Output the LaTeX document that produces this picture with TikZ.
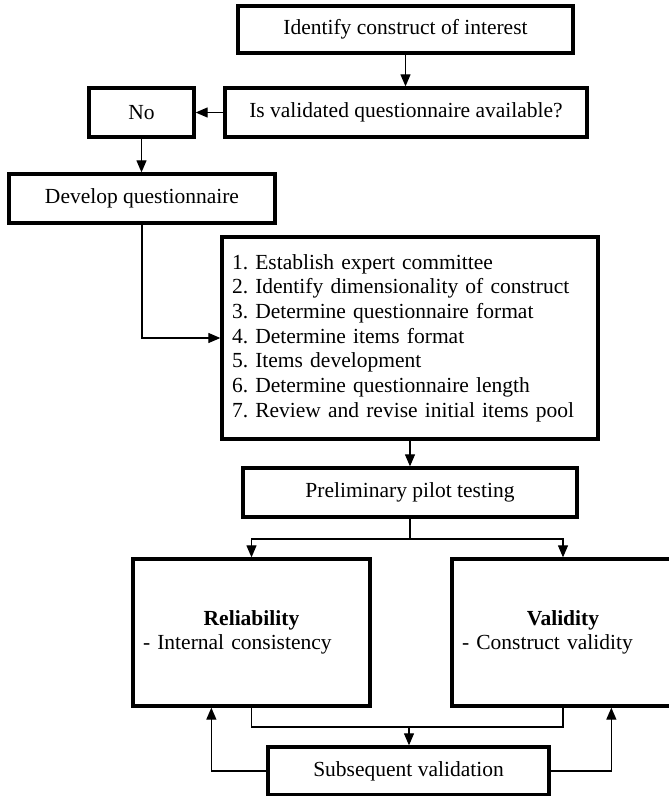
\documentclass[tikz,border=0pt]{standalone}
\usepackage{fontspec}
\setmainfont{Liberation Serif}
\usetikzlibrary{arrows.meta}
\newcommand{\boxfont}{\fontsize{21.5}{24.7}\selectfont}
\frenchspacing

\begin{document}
\begin{tikzpicture}[x=1pt, y=-1pt,
  box/.style={draw, line width=3.3pt, inner sep=0pt, align=center, font=\boxfont},
  listbox/.style={box, align=left, inner xsep=10pt},
  conn/.style={line width=1.2pt},
  arr/.style={conn, -{Triangle[length=12pt, width=10pt]}}
]
\useasboundingbox (0,0) rectangle (669,796);
\node[box, minimum width=335pt, minimum height=47pt] (ident) at (405.5,29.5) {Identify construct of interest};
\node[box, minimum width=362pt, minimum height=49pt] (avail) at (406,112.5) {Is validated questionnaire available?};
\node[box, minimum width=105pt, minimum height=49pt] (no) at (141.5,112.5) {No};
\node[box, minimum width=266pt, minimum height=49pt] (develop) at (142,198.5) {Develop questionnaire};
\node[listbox, text width=356pt, minimum height=202pt] (steps) at (410,338) {1. Establish expert committee\\
  2. Identify dimensionality of construct\\
  3. Determine questionnaire format\\
  4. Determine items format\\
  5. Items development\\
  6. Determine questionnaire length\\
  7. Review and revise initial items pool};
\node[box, minimum width=334pt, minimum height=49pt] (pilot) at (410,492.5) {Preliminary pilot testing};
\node[listbox, text width=217pt, minimum height=147pt] (rel) at (251.5,632.5) {\makebox[217pt]{\textbf{Reliability}}\\- Internal consistency};
\node[listbox, text width=202pt, minimum height=147pt] (val) at (563,632.5) {\makebox[202pt]{\textbf{Validity}}\\- Construct validity};
\node[box, minimum width=281pt, minimum height=48pt] (subseq) at (408.5,771) {Subsequent validation};
\coordinate (split) at (410,539);
\coordinate (join) at (409,727);

\draw[arr] (ident.south) -- (ident.south |- avail.north);
\draw[arr] (avail) -- (no);
\draw[arr] (no.south) -- (no.south |- develop.north);
\draw[arr] (develop.south) |- (steps.west);
\draw[arr] (steps) -- (pilot);
\draw[conn] (pilot) -- (split);
\draw[arr] (split) -| (rel.north);
\draw[arr] (split) -| (val.north);
\draw[conn] (rel.south) |- (join) -| (val.south);
\draw[arr] (join) -- (join |- subseq.north);
\draw[arr] (subseq.west) -| ([xshift=80pt]rel.south west);
\draw[arr] (subseq.east) -| ([xshift=161pt]val.south west);
\end{tikzpicture}
\end{document}
